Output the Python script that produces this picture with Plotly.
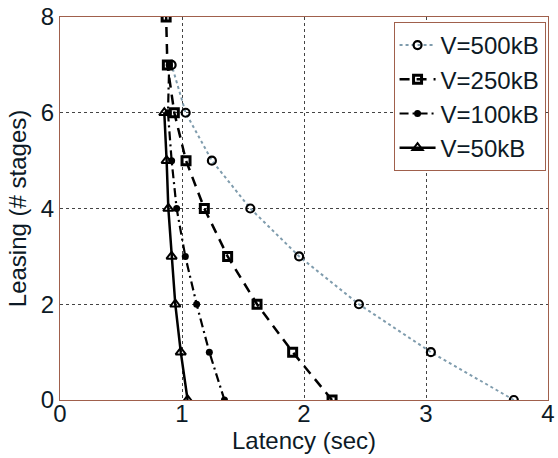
import plotly.graph_objects as go

# Data
leasing_500 = [0, 1, 2, 3, 4, 5, 6, 7]
latency_500 = [3.72, 3.04, 2.45, 1.96, 1.56, 1.245, 1.03, 0.915]

leasing_250 = [0, 1, 2, 3, 4, 5, 6, 7, 8]
latency_250 = [2.23, 1.907, 1.615, 1.374, 1.183, 1.033, 0.937, 0.88, 0.87]

leasing_100 = [0, 1, 2, 3, 4, 5, 6, 7]
latency_100 = [1.348, 1.224, 1.12, 1.027, 0.956, 0.915, 0.885, 0.895]

leasing_50 = [0, 1, 2, 3, 4, 5, 6]
latency_50 = [1.046, 0.99, 0.945, 0.915, 0.888, 0.874, 0.855]

series_names = ["V=500kB", "V=250kB", "V=100kB", "V=50kB"]
x_ticks = [0, 1, 2, 3, 4]
y_ticks = [0, 2, 4, 6, 8]

FONT = "Liberation Sans, Arial, sans-serif"
FRAME = "#a0604c"
TXT = "#0d1a26"

fig = go.Figure()

fig.add_trace(go.Scatter(
    x=latency_500, y=leasing_500, name=series_names[0], mode="lines+markers",
    line=dict(color="#7f9cad", width=2, dash="dot"),
    marker=dict(symbol="circle-open", size=8, color="black", line=dict(width=2.2, color="black")),
))
fig.add_trace(go.Scatter(
    x=latency_250, y=leasing_250, name=series_names[1], mode="lines+markers",
    line=dict(color="black", width=2.5, dash="10px,7px"),
    marker=dict(symbol="square-open", size=8, color="black", line=dict(width=3, color="black")),
))
fig.add_trace(go.Scatter(
    x=latency_100, y=leasing_100, name=series_names[2], mode="lines+markers",
    line=dict(color="black", width=2.2, dash="9px,4px,2px,4px"),
    marker=dict(symbol="circle", size=7, color="black"),
))
fig.add_trace(go.Scatter(
    x=latency_50, y=leasing_50, name=series_names[3], mode="lines+markers",
    line=dict(color="black", width=2.5, dash="solid"),
    marker=dict(symbol="triangle-up-open", size=9, color="black", line=dict(width=2, color="black")),
))

axis_common = dict(
    showline=True, mirror=True, linecolor=FRAME, linewidth=1.2,
    showgrid=True, gridcolor="#444444", gridwidth=1, griddash="dot",
    zeroline=False, ticks="", ticklen=0, automargin=False,
    ticklabeloverflow="allow",
    tickfont=dict(family=FONT, size=24, color=TXT),
)

fig.update_xaxes(
    range=[0, 4], tickvals=x_ticks, ticktext=[str(v) for v in x_ticks],
    ticklabelstandoff=-8,
    title=dict(text="Latency (sec)", font=dict(family=FONT, size=24, color=TXT), standoff=0),
    **axis_common,
)
fig.update_yaxes(
    range=[0, 8], tickvals=y_ticks, ticktext=[str(v) for v in y_ticks],
    title=dict(text="Leasing (# stages)", font=dict(family=FONT, size=24, color=TXT), standoff=7),
    **axis_common,
)

fig.update_layout(
    width=558, height=458,
    margin=dict(l=60, r=10, t=17, b=58),
    plot_bgcolor="white", paper_bgcolor="white",
    font=dict(family=FONT, size=24, color=TXT),
    showlegend=True,
    legend=dict(
        x=0.995, y=0.987, xanchor="right", yanchor="top",
        bgcolor="white", bordercolor=FRAME, borderwidth=1,
        font=dict(family=FONT, size=24, color=TXT),
        itemwidth=36, tracegroupgap=0,
    ),
)

# remove the page's default body margin so the figure fills the window exactly
fig.write_html(
    "out.html",
    config={"displayModeBar": False},
    post_script="document.body.style.margin='0px';document.body.style.overflow='hidden';",
)
